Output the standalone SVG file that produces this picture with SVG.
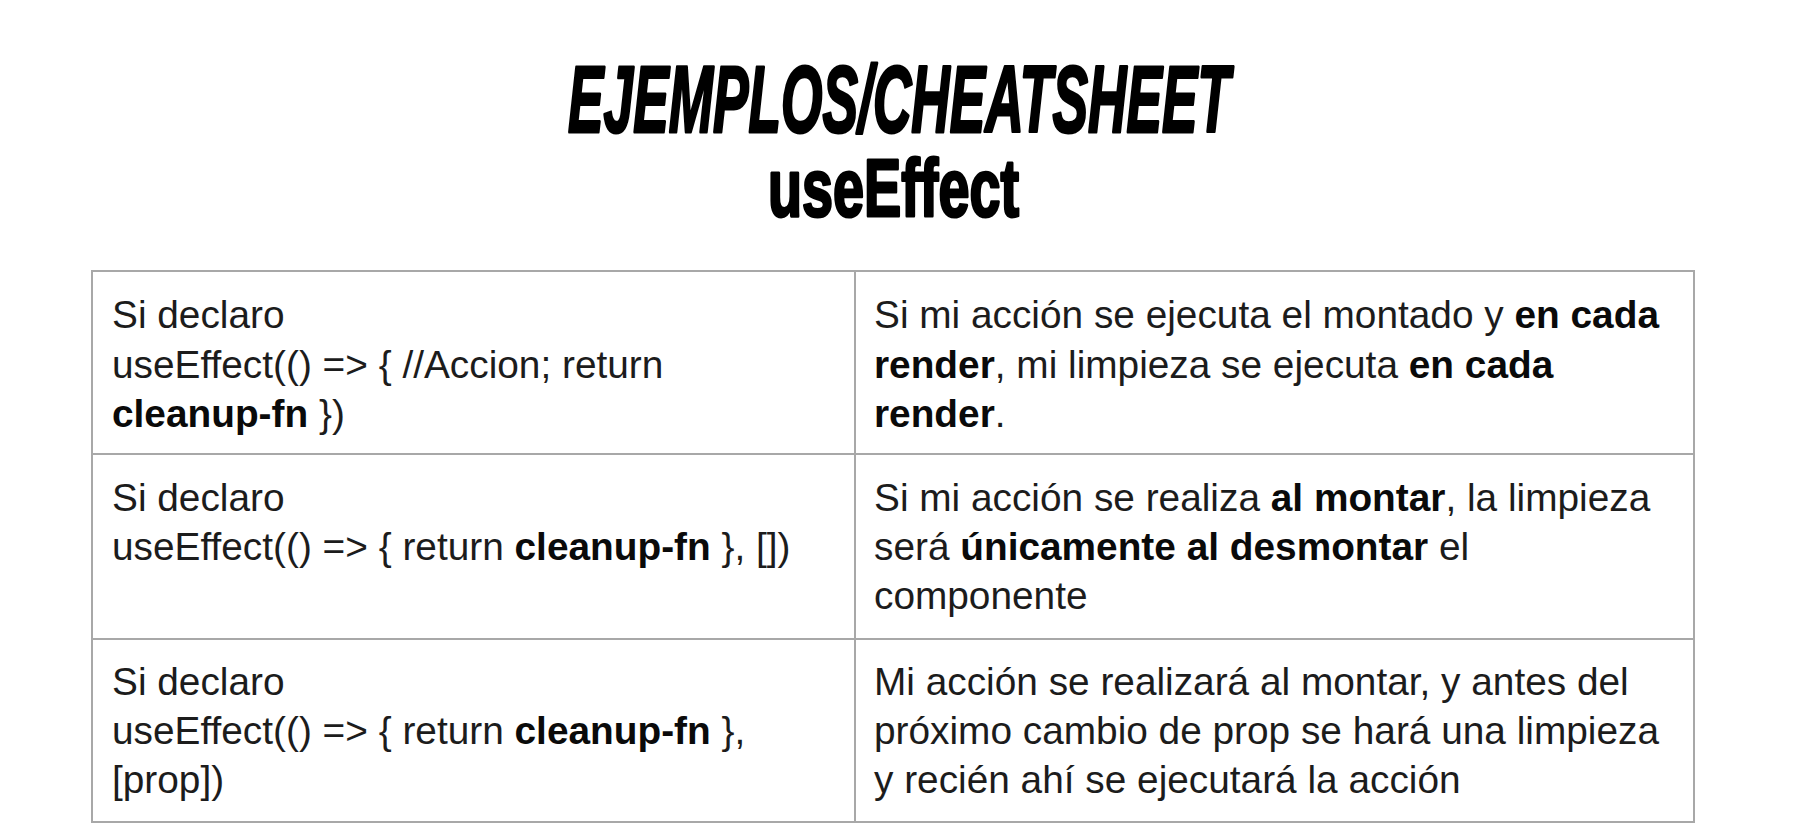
<svg xmlns="http://www.w3.org/2000/svg" width="1812" height="830" viewBox="0 0 1812 830">
<style>
  .title { font-family: "Liberation Sans", Arial, sans-serif; font-weight: bold; fill: #000; stroke: #000; stroke-width: 3; stroke-linejoin: round; }
  .cell { font-family: "Liberation Sans", Arial, sans-serif; font-size: 38.8px; fill: #1c1c1c; }
  .b { font-weight: bold; fill: #0a0a0a; }
  .grid { stroke: #a8a8a8; stroke-width: 2; fill: none; }
</style>
<rect x="0" y="0" width="1812" height="830" fill="#ffffff"/>
<g id="title">
  <text class="title" x="568" y="132" font-size="94" font-style="italic" textLength="662" lengthAdjust="spacingAndGlyphs">EJEMPLOS/CHEATSHEET</text>
  <text class="title" x="768" y="216" font-size="81" textLength="251" lengthAdjust="spacingAndGlyphs">useEffect</text>
</g>
<g id="table-grid" class="grid">
  <rect x="92" y="271" width="1602" height="551"/>
  <line x1="855" y1="271" x2="855" y2="822"/>
  <line x1="92" y1="454" x2="1694" y2="454"/>
  <line x1="92" y1="639" x2="1694" y2="639"/>
</g>
<g id="row1-left" class="cell">
  <text x="112" y="328">Si declaro</text>
  <text x="112" y="378">useEffect(() =&gt; { //Accion; return</text>
  <text x="112" y="427"><tspan class="b">cleanup-fn</tspan> })</text>
</g>
<g id="row1-right" class="cell">
  <text x="874" y="328">Si mi acción se ejecuta el montado y <tspan class="b">en cada</tspan></text>
  <text x="874" y="378"><tspan class="b">render</tspan>, mi limpieza se ejecuta <tspan class="b">en cada</tspan></text>
  <text x="874" y="427"><tspan class="b">render</tspan>.</text>
</g>
<g id="row2-left" class="cell">
  <text x="112" y="511">Si declaro</text>
  <text x="112" y="560">useEffect(() =&gt; { return <tspan class="b">cleanup-fn</tspan> }, [])</text>
</g>
<g id="row2-right" class="cell">
  <text x="874" y="511">Si mi acción se realiza <tspan class="b">al montar</tspan>, la limpieza</text>
  <text x="874" y="560">será <tspan class="b">únicamente al desmontar</tspan> el</text>
  <text x="874" y="609">componente</text>
</g>
<g id="row3-left" class="cell">
  <text x="112" y="695">Si declaro</text>
  <text x="112" y="744">useEffect(() =&gt; { return <tspan class="b">cleanup-fn</tspan> },</text>
  <text x="112" y="793">[prop])</text>
</g>
<g id="row3-right" class="cell">
  <text x="874" y="695">Mi acción se realizará al montar, y antes del</text>
  <text x="874" y="744">próximo cambio de prop se hará una limpieza</text>
  <text x="874" y="793">y recién ahí se ejecutará la acción</text>
</g>
</svg>
